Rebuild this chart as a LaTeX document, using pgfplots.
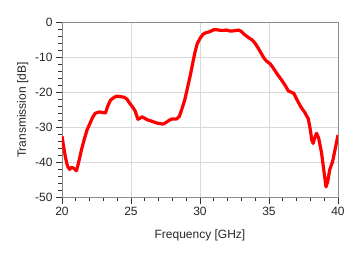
\documentclass[border=0pt]{standalone}
\usepackage{pgfplots}
\pgfplotsset{compat=1.18}
\usepackage{fontspec}
\setmainfont{Liberation Sans}
\begin{document}
\begin{tikzpicture}
\useasboundingbox (-62pt,-63.3pt) rectangle (297pt,197.7pt);
\begin{axis}[
  at={(0,0)}, anchor=south west,
  scale only axis, width=276pt, height=175pt,
  xmin=20, xmax=40, ymin=-50, ymax=0,
  xtick={20,25,...,40}, ytick={-50,-40,...,0},
  minor x tick num=4, minor y tick num=4,
  xtick pos=left, ytick pos=left, tick align=outside,
  major tick length=6pt, minor tick length=3.5pt,
  every tick/.style={black!80, line width=0.6pt},
  grid=major, major grid style={gray!30, line width=0.7pt},
  axis line style={gray!90, line width=0.8pt},
  /pgf/number format/assume math mode=true,
  ticklabel style={font=\fontsize{12}{14}\selectfont, text=black!85},
  label style={font=\fontsize{12}{14}\selectfont, text=black!85},
  xlabel={Frequency [GHz]}, ylabel={Transmission [dB]},
  xlabel style={yshift=-7pt},
  ylabel style={yshift=0pt},
]
\addplot[red, line width=3.2pt, line join=round] table {
20.0 -32.4
20.1 -35
20.25 -38.5
20.4 -41
20.55 -41.9
20.7 -41.3
20.85 -41.6
21.05 -42.3
21.2 -40
21.4 -36.5
21.6 -33.5
21.8 -30.8
22.0 -29
22.2 -27.2
22.4 -25.9
22.7 -25.5
23.0 -25.7
23.15 -25.8
23.3 -24
23.5 -22.2
23.75 -21.4
23.95 -21.0
24.2 -21.1
24.5 -21.3
24.7 -21.8
24.9 -23
25.1 -24
25.3 -25.2
25.5 -27.6
25.65 -27.3
25.8 -26.9
26.0 -27.3
26.15 -27.7
26.4 -28
26.6 -28.3
26.9 -28.7
27.1 -28.8
27.3 -29
27.5 -28.6
27.8 -27.8
28.0 -27.5
28.3 -27.5
28.5 -26.8
28.7 -24.5
28.9 -22
29.1 -18.5
29.3 -15
29.5 -11
29.65 -8.2
29.8 -6
30.0 -4.5
30.2 -3.4
30.4 -2.9
30.6 -2.7
30.8 -2.4
31.0 -2.0
31.2 -2.0
31.5 -2.2
31.7 -2.2
31.9 -2.1
32.2 -2.4
32.5 -2.3
32.8 -2.1
33.0 -2.5
33.2 -3.3
33.5 -4.2
33.8 -5.0
34.0 -5.9
34.3 -7.8
34.6 -9.9
34.8 -10.9
35.1 -11.8
35.3 -12.9
35.6 -14.7
35.9 -16.3
36.2 -18.1
36.4 -19.5
36.6 -19.8
36.8 -20.2
37.0 -21.8
37.3 -24
37.6 -25.7
37.85 -27.5
38.0 -30.7
38.1 -33.5
38.2 -34.5
38.3 -33
38.45 -31.6
38.6 -33
38.8 -37
39.0 -43
39.13 -46.9
39.25 -45.5
39.4 -42
39.6 -39.8
39.8 -36
40.0 -32.1
};
\end{axis}
\end{tikzpicture}
\end{document}
